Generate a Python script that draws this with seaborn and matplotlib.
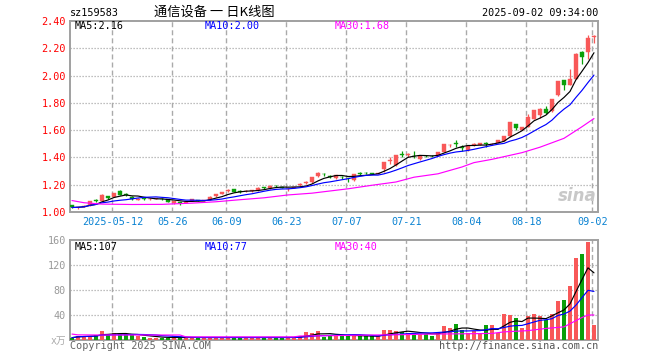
import numpy as np
import pandas as pd
import matplotlib
matplotlib.use("Agg")
import matplotlib.pyplot as plt
import seaborn as sns

# ---------------- data ----------------
open_ = [1.048, 1.033, 1.038, 1.048, 1.086, 1.080, 1.118, 1.113, 1.157, 1.130,
         1.113, 1.089, 1.099, 1.094, 1.096, 1.097, 1.094, 1.068, 1.070, 1.068,
         1.080, 1.087, 1.083, 1.090, 1.115, 1.135, 1.152, 1.168, 1.152, 1.152,
         1.155, 1.158, 1.180, 1.174, 1.192, 1.182, 1.168, 1.178, 1.198, 1.215,
         1.218, 1.266, 1.278, 1.266, 1.246, 1.258, 1.250, 1.232, 1.282, 1.285,
         1.283, 1.280, 1.318, 1.377, 1.345, 1.425, 1.418, 1.412, 1.390, 1.410,
         1.410, 1.410, 1.440, 1.488, 1.502, 1.475, 1.452, 1.492, 1.494, 1.505,
         1.496, 1.508, 1.520, 1.555, 1.643, 1.600, 1.623, 1.685, 1.710, 1.757,
         1.738, 1.855, 1.965, 1.930, 1.978, 2.173, 2.170, 2.285]
close = [1.033, 1.036, 1.045, 1.080, 1.083, 1.128, 1.104, 1.137, 1.128, 1.127,
         1.096, 1.097, 1.095, 1.097, 1.098, 1.094, 1.074, 1.078, 1.067, 1.075,
         1.094, 1.084, 1.086, 1.113, 1.132, 1.148, 1.162, 1.146, 1.150, 1.156,
         1.158, 1.177, 1.177, 1.193, 1.190, 1.178, 1.172, 1.182, 1.200, 1.218,
         1.254, 1.285, 1.276, 1.254, 1.268, 1.256, 1.248, 1.278, 1.280, 1.283,
         1.279, 1.282, 1.368, 1.380, 1.415, 1.420, 1.420, 1.410, 1.410, 1.408,
         1.407, 1.440, 1.495, 1.490, 1.500, 1.470, 1.482, 1.495, 1.505, 1.502,
         1.502, 1.525, 1.557, 1.657, 1.616, 1.623, 1.700, 1.745, 1.757, 1.728,
         1.826, 1.958, 1.930, 1.975, 2.160, 2.135, 2.275, 2.292]
high = [1.050, 1.040, 1.050, 1.083, 1.095, 1.130, 1.120, 1.140, 1.160, 1.138,
        1.115, 1.100, 1.102, 1.100, 1.100, 1.100, 1.096, 1.080, 1.072, 1.078,
        1.096, 1.090, 1.090, 1.115, 1.135, 1.150, 1.165, 1.170, 1.158, 1.164,
        1.162, 1.180, 1.186, 1.196, 1.198, 1.186, 1.178, 1.185, 1.210, 1.230,
        1.258, 1.290, 1.285, 1.268, 1.270, 1.265, 1.252, 1.280, 1.296, 1.290,
        1.286, 1.288, 1.370, 1.405, 1.418, 1.450, 1.430, 1.445, 1.412, 1.415,
        1.415, 1.442, 1.500, 1.500, 1.530, 1.490, 1.485, 1.505, 1.508, 1.515,
        1.505, 1.528, 1.560, 1.660, 1.645, 1.626, 1.720, 1.750, 1.760, 1.780,
        1.830, 1.962, 1.968, 2.050, 2.165, 2.178, 2.300, 2.295]
low = [1.030, 1.022, 1.035, 1.045, 1.075, 1.078, 1.098, 1.110, 1.125, 1.118,
       1.090, 1.085, 1.087, 1.090, 1.092, 1.088, 1.072, 1.062, 1.048, 1.065,
       1.078, 1.080, 1.080, 1.088, 1.112, 1.130, 1.148, 1.144, 1.142, 1.148,
       1.150, 1.155, 1.170, 1.172, 1.184, 1.175, 1.152, 1.175, 1.190, 1.205,
       1.216, 1.255, 1.265, 1.250, 1.244, 1.242, 1.222, 1.230, 1.272, 1.276,
       1.275, 1.276, 1.290, 1.355, 1.340, 1.405, 1.405, 1.395, 1.378, 1.400,
       1.400, 1.408, 1.438, 1.475, 1.480, 1.445, 1.450, 1.485, 1.490, 1.478,
       1.490, 1.505, 1.518, 1.550, 1.598, 1.598, 1.620, 1.680, 1.690, 1.715,
       1.735, 1.850, 1.895, 1.928, 1.975, 2.085, 2.120, 2.240]
volume = [3.7, 6.5, 6.5, 7.0, 8.5, 14.4, 8.5, 11.0, 9.0, 9.0,
          8.5, 6.5, 5.0, 4.0, 4.0, 4.0, 4.0, 4.0, 4.0, 4.0,
          4.0, 4.0, 4.0, 4.0, 4.0, 4.0, 4.0, 4.0, 4.0, 4.0,
          4.0, 4.0, 4.0, 4.0, 4.0, 4.0, 4.0, 4.5, 6.4, 12.8,
          10.7, 14.4, 5.0, 8.0, 7.5, 7.5, 7.5, 6.0, 6.0, 6.0,
          6.0, 6.0, 15.7, 15.7, 14.1, 13.0, 12.0, 11.0, 9.9, 9.6,
          7.0, 12.0, 22.4, 19.2, 25.6, 16.5, 12.0, 13.9, 12.0, 23.5,
          24.5, 11.0, 41.6, 40.5, 35.2, 19.2, 38.9, 41.6, 38.9, 32.5,
          41.6, 62.9, 64.5, 86.9, 131.0, 138.0, 157.0, 24.5]

ma30_idx = [0, 2, 5, 10, 15, 20, 24, 28, 32, 36, 40, 43, 46, 50, 54, 57,
            61, 65, 67, 70, 75, 78, 82, 85, 86, 87]
ma30_val = [1.084, 1.068, 1.058, 1.055, 1.056, 1.065, 1.075, 1.090, 1.104,
            1.125, 1.138, 1.154, 1.170, 1.196, 1.220, 1.255, 1.280, 1.330,
            1.362, 1.386, 1.435, 1.475, 1.540, 1.625, 1.655, 1.685]
vma30_idx = [0, 1, 5, 10, 18, 19, 30, 37, 38, 43, 50, 55, 60, 65, 70, 72,
             76, 79, 82, 83, 84, 85, 86, 87]
vma30_val = [9.5, 8.2, 8.0, 8.0, 8.0, 5.0, 5.0, 5.0, 6.4, 6.9, 8.0, 8.5,
             9.5, 9.9, 10.5, 13.0, 15.0, 18.5, 21.0, 26.0, 31.0, 36.0, 40.0, 40.0]

date_idx = [7, 17, 26, 36, 46, 56, 66, 76, 87]
date_labels = ["2025-05-12", "05-26", "06-09", "06-23", "07-07",
               "07-21", "08-04", "08-18", "09-02"]
price_ticks = [1.00, 1.20, 1.40, 1.60, 1.80, 2.00, 2.20, 2.40]
vol_ticks = [40, 80, 120, 160]

# ---------------- style ----------------
sns.set_style("white")
plt.rcParams['font.family'] = ['DejaVu Sans Mono', 'Noto Sans CJK SC']

RED = '#F85858'
GREEN = '#0AA00A'
GRID = '#AAAAAA'
FRAME = '#A0A0A0'

W, H = 660, 360
fig = plt.figure(figsize=(W / 100, H / 100), dpi=100)


def box(l, t, r, b):
    return [l / W, 1 - b / H, (r - l) / W, (b - t) / H]


axp = fig.add_axes(box(70, 21, 598, 212))
axv = fig.add_axes(box(70, 240, 598, 340))

df = pd.DataFrame({'o': open_, 'c': close, 'h': high, 'l': low, 'v': volume})
df['i'] = np.arange(len(df))
df['up'] = df['c'] >= df['o']
df['col'] = np.where(df['up'], RED, GREEN)
df['ma5'] = df['c'].rolling(5, min_periods=1).mean()
df['ma10'] = df['c'].rolling(10, min_periods=1).mean()
df['vma5'] = df['v'].rolling(5, min_periods=1).mean()
df['vma10'] = df['v'].rolling(10, min_periods=1).mean()

xmin, xmax = -0.33, 87.67
for ax in (axp, axv):
    ax.set_xlim(xmin, xmax)
    for g in date_idx:
        ax.axvline(g - 0.25, color=GRID, lw=1.0, dashes=(3.6, 2.2), zorder=0)
    for s in ax.spines.values():
        s.set_color(FRAME)
        s.set_linewidth(1.4)
        s.set_visible(True)
    ax.tick_params(length=0)
    ax.set_xticks([])

# ---------------- price panel ----------------
axp.set_ylim(1.0, 2.4)
for y in price_ticks[1:-1]:
    axp.axhline(y, color=GRID, lw=0.9, dashes=(1, 1.4), zorder=0)

axp.vlines(df['i'], df['l'], df['h'], colors=df['col'], lw=0.9, zorder=3)
body_bottom = np.minimum(df['o'], df['c'])
body_h = np.maximum((df['c'] - df['o']).abs(), 0.004)
axp.bar(df['i'], body_h, bottom=body_bottom, width=0.75, color=df['col'],
        edgecolor=df['col'], linewidth=0.3, zorder=4)

sns.lineplot(x=df['i'], y=df['ma5'], ax=axp, color='black', lw=0.85, zorder=5)
sns.lineplot(x=df['i'], y=df['ma10'], ax=axp, color='#0000FF', lw=0.85, zorder=5)
sns.lineplot(x=ma30_idx, y=ma30_val, ax=axp, color='#FF00FF', lw=0.85, zorder=5)

axp.set_yticks(price_ticks)
axp.set_yticklabels([f"{t:.2f}" for t in price_ticks], color='#FF0000',
                    fontsize=7.3)
axp.tick_params(axis='y', pad=3)
axp.set_xlabel('')
axp.set_ylabel('')

# sina watermark
axp.text(0.997, 0.035, 'sina', transform=axp.transAxes, ha='right', va='bottom',
         fontsize=12, fontweight='bold', style='italic', color='#C8C8C8',
         family='DejaVu Sans', zorder=1)

# ---------------- volume panel ----------------
axv.set_ylim(0, 160)
for y in vol_ticks[:-1]:
    axv.axhline(y, color=GRID, lw=0.9, dashes=(1, 1.4), zorder=0)
axv.bar(df['i'], df['v'], width=0.78, color=df['col'], linewidth=0, zorder=3)
sns.lineplot(x=df['i'], y=df['vma5'], ax=axv, color='black', lw=0.85, zorder=5)
sns.lineplot(x=df['i'], y=df['vma10'], ax=axv, color='#0000FF', lw=0.85, zorder=5)
sns.lineplot(x=vma30_idx, y=vma30_val, ax=axv, color='#FF00FF', lw=0.85, zorder=5)
axv.set_yticks(vol_ticks)
axv.set_yticklabels([str(t) for t in vol_ticks], color='#999999', fontsize=7.3)
axv.tick_params(axis='y', pad=3)
axv.set_xlabel('')
axv.set_ylabel('')

# ---------------- texts ----------------
def ft(x, y, s, **kw):
    fig.text(x / W, 1 - y / H, s, **kw)


mono = dict(fontsize=7.3, va='center')
ft(70, 13, 'sz159583', ha='left', color='black', **mono)
ft(214, 12, '通信设备 一 日K线图', ha='center', va='center', fontsize=9.5,
   color='black', family=['Noto Sans CJK SC', 'DejaVu Sans'])
ft(598, 13, '2025-09-02 09:34:00', ha='right', color='black', **mono)

ft(75, 26, 'MA5:2.16', ha='left', color='black', **mono)
ft(205, 26, 'MA10:2.00', ha='left', color='#0000FF', **mono)
ft(335, 26, 'MA30:1.68', ha='left', color='#FF00FF', **mono)

ft(75, 247, 'MA5:107', ha='left', color='black', **mono)
ft(205, 247, 'MA10:77', ha='left', color='#0000FF', **mono)
ft(335, 247, 'MA30:40', ha='left', color='#FF00FF', **mono)

for g, lab in zip(date_idx, date_labels):
    xp = 70 + (g - 0.25 - xmin) / (xmax - xmin) * 528
    ft(xp, 222, lab, ha='center', color='#0A82D2', **mono)

ft(66, 341, 'x万', ha='right', va='center', fontsize=7, color='#AAAAAA',
   family=['DejaVu Sans Mono', 'Noto Sans CJK SC'])
ft(70, 346, 'Copyright 2025 SINA.COM', ha='left', color='#666666', **mono)
ft(598, 346, 'http://finance.sina.com.cn', ha='right', color='#555555', **mono)

fig.savefig('out.png', dpi=100)
